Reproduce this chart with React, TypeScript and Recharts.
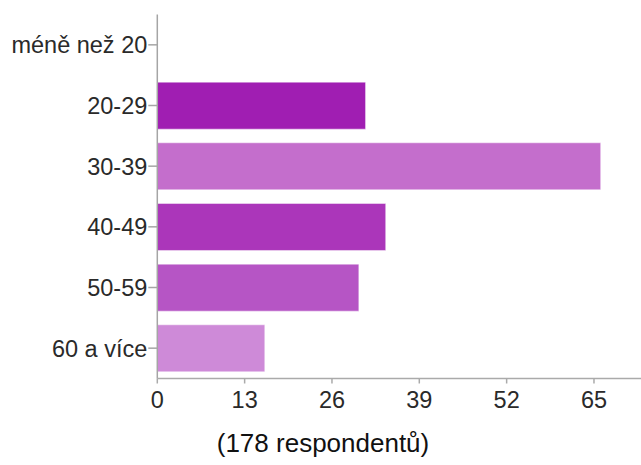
import { BarChart, Bar, XAxis, YAxis, Cell } from "recharts"

const categories = ["méně než 20", "20-29", "30-39", "40-49", "50-59", "60 a více"]
const counts = [0, 31, 66, 34, 30, 16]
const barColors = ["#A01EB2", "#A01EB2", "#C46ECC", "#AB36BA", "#B655C5", "#CE8AD8"]
const xTicks = [0, 13, 26, 39, 52, 65]
const respondents = 178

const data = categories.map((name, i) => ({ name, value: counts[i] }))

const tickStyle = { fontSize: 23.5, fill: "#2a2a2a", fontFamily: "Arial, 'Liberation Sans', sans-serif" }

export default function App() {
  return (
    <div style={{ position: "absolute", left: 0, top: 0, width: 641, height: 465, background: "#fff" }}>
      <BarChart
        width={641}
        height={465}
        data={data}
        layout="vertical"
        barCategoryGap="11.5%"
        margin={{ top: 14.5, right: 0, bottom: 46.5, left: 0 }}
      >
        <XAxis
          type="number"
          domain={[0, 72]}
          ticks={xTicks}
          height={40}
          tick={tickStyle}
          tickSize={5}
          tickMargin={8}
          stroke="#aaa"
          strokeWidth={1.5}
          interval={0}
        />
        <YAxis
          type="category"
          dataKey="name"
          width={157.3}
          tick={tickStyle}
          tickSize={9}
          tickMargin={1}
          stroke="#a5a5a5"
          strokeWidth={1.5}
          interval={0}
        />
        <Bar dataKey="value" isAnimationActive={false} stroke="rgba(255,255,255,0.45)" strokeWidth={1}>
          {data.map((entry, index) => (
            <Cell key={entry.name} fill={barColors[index]} />
          ))}
        </Bar>
      </BarChart>
      <div
        style={{
          position: "absolute",
          left: 0,
          top: 430,
          width: 646,
          textAlign: "center",
          fontSize: 26,
          lineHeight: "26px",
          color: "#111",
          fontFamily: "Arial, 'Liberation Sans', sans-serif",
        }}
      >
        ({respondents} respondentů)
      </div>
    </div>
  )
}
